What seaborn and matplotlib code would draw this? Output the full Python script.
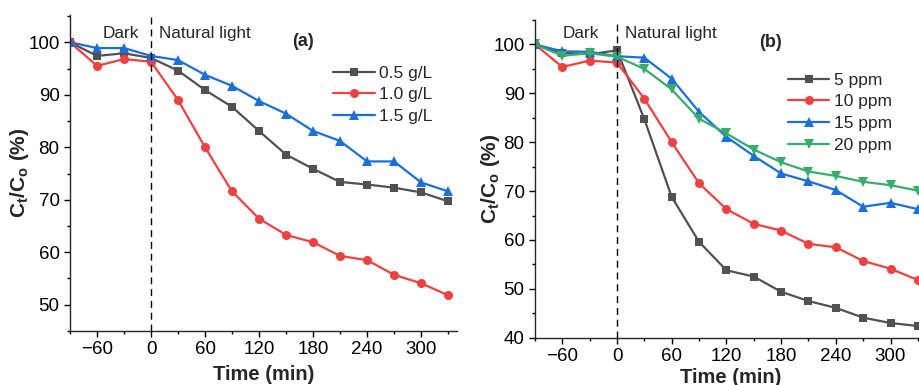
import numpy as np
import pandas as pd
import seaborn as sns
import matplotlib.pyplot as plt
from matplotlib.ticker import MultipleLocator

# time points (min), dark phase then natural light
time = [-90, -60, -30, 0, 30, 60, 90, 120, 150, 180, 210, 240, 270, 300, 330]

# (a) catalyst dose
dose_labels = ['0.5 g/L', '1.0 g/L', '1.5 g/L']
dose_05 = [100, 97.4, 97.9, 97.0, 94.6, 90.9, 87.7, 83.1, 78.6, 75.9, 73.4, 72.9, 72.3, 71.4, 69.7]
dose_10 = [100, 95.5, 96.8, 96.3, 89.0, 80.0, 71.6, 66.4, 63.3, 61.9, 59.3, 58.5, 55.7, 54.1, 51.8]
dose_15 = [100, 98.9, 98.9, 97.4, 96.6, 93.8, 91.7, 88.8, 86.4, 83.1, 81.2, 77.3, 77.3, 73.3, 71.6]

# (b) initial concentration
conc_labels = ['5 ppm', '10 ppm', '15 ppm', '20 ppm']
conc_5 = [100, 98.3, 98.0, 98.8, 84.7, 68.8, 59.6, 53.8, 52.5, 49.4, 47.5, 46.1, 44.1, 43.0, 42.4]
conc_10 = [100, 95.4, 96.7, 96.3, 88.9, 80.0, 71.6, 66.3, 63.3, 61.9, 59.2, 58.5, 55.7, 54.1, 51.8]
conc_15 = [100, 98.6, 98.5, 97.6, 97.3, 93.0, 86.2, 81.1, 77.2, 73.6, 72.0, 70.2, 66.8, 67.6, 66.3]
conc_20 = [100, 97.7, 98.2, 97.5, 95.0, 90.8, 84.8, 81.8, 78.5, 75.9, 74.0, 73.1, 71.9, 71.2, 70.1]

colors = ['#515151', '#F14040', '#1A6FDF', '#37AD6B']
markers = ['s', 'o', '^', 'v']
msizes = [6, 6.5, 7, 7]

sns.set_style('ticks')
plt.rcParams['font.family'] = ['Liberation Sans', 'DejaVu Sans']
plt.rcParams['mathtext.fontset'] = 'custom'
plt.rcParams['mathtext.rm'] = 'Liberation Sans'
plt.rcParams['mathtext.it'] = 'Liberation Sans:italic'
plt.rcParams['mathtext.bf'] = 'Liberation Sans:bold'
plt.rcParams['axes.linewidth'] = 1.0
plt.rcParams['xtick.color'] = 'black'
plt.rcParams['ytick.color'] = 'black'

fig = plt.figure(figsize=(9.2, 3.85), dpi=100)
ax_a = fig.add_axes([0.0761, 0.1403, 0.4207, 0.8208])
ax_b = fig.add_axes([0.5815, 0.1229, 0.4261, 0.8250])


def draw_panel(ax, series, labels, ylim, yticks, tag, dark_xy, light_xy, tag_xy,
               leg_anchor, ylab_x, xlab_pad):
    for i, (vals, lab) in enumerate(zip(series, labels)):
        sns.lineplot(x=time, y=vals, ax=ax, color=colors[i], marker=markers[i],
                     markersize=msizes[i], markeredgewidth=0, linewidth=1.6, label=lab)
    ax.axvline(0, color='black', linestyle=(0, (5, 3.5)), linewidth=1.0)
    ax.set_xlim(-90, 340)
    ax.set_ylim(*ylim)
    ax.set_xticks([-60, 0, 60, 120, 180, 240, 300])
    ax.set_xticklabels(['\u221260', '0', '60', '120', '180', '240', '300'])
    ax.set_yticks(yticks)
    ax.xaxis.set_minor_locator(MultipleLocator(30))
    ax.yaxis.set_minor_locator(MultipleLocator(5))
    ax.tick_params(which='major', direction='out', length=4.5, width=1.0, labelsize=13.5, pad=3)
    ax.tick_params(which='minor', direction='out', length=2.5, width=1.0)
    sns.despine(ax=ax)
    ax.set_xlabel('Time (min)', fontsize=14.5, fontweight='bold', labelpad=xlab_pad)
    ax.set_ylabel(r'$\mathbf{C_t/C_o}$ (%)', fontsize=15, fontweight='bold')
    ax.yaxis.set_label_coords(ylab_x, 0.5)
    ax.text(dark_xy[0], dark_xy[1], 'Dark', fontsize=12.3, ha='center', va='center')
    ax.text(light_xy[0], light_xy[1], 'Natural light', fontsize=12.3, ha='left', va='center')
    ax.text(tag_xy[0], tag_xy[1], tag, fontsize=13, fontweight='bold', ha='center', va='center')
    ax.legend(loc='upper left', bbox_to_anchor=leg_anchor, frameon=False, fontsize=12.5,
              borderpad=0, borderaxespad=0, handlelength=2.4, handletextpad=0.25,
              labelspacing=0.38)


draw_panel(ax_a, [dose_05, dose_10, dose_15], dose_labels, (45, 105.2),
           [50, 60, 70, 80, 90, 100], '(a)', (-34, 101.6), (9, 101.6), (169, 100.2),
           (0.68, 0.84), -0.10, 4.5)
draw_panel(ax_b, [conc_5, conc_10, conc_15, conc_20], conc_labels, (40, 105),
           [40, 50, 60, 70, 80, 90, 100], '(b)', (-40, 102.3), (9, 102.3), (168, 100.4),
           (0.645, 0.835), -0.084, 2)

fig.savefig('out.png', dpi=100)
